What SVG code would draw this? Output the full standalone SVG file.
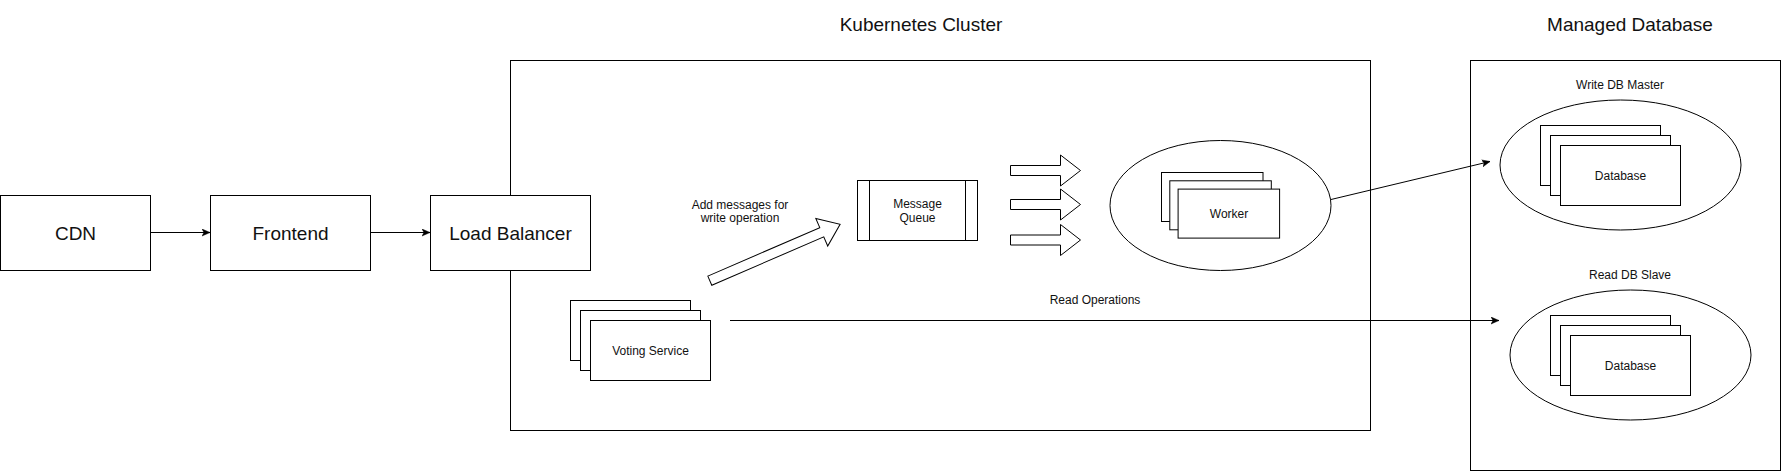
<svg xmlns="http://www.w3.org/2000/svg" width="1781" height="471" viewBox="0 0 1781 471">
<style>
.box{fill:#fff;stroke:#000;stroke-width:1}
.cont{fill:none;stroke:#000;stroke-width:1}
.ell{fill:#fff;stroke:#000;stroke-width:1}
.edge{fill:none;stroke:#000;stroke-width:1}
.blk{fill:#fff;stroke:#000;stroke-width:1;stroke-linejoin:miter}
.big{font-family:"Liberation Sans",Arial,sans-serif;font-size:19px;fill:#111;text-anchor:middle}
.sm{font-family:"Liberation Sans",Arial,sans-serif;font-size:12px;fill:#111;text-anchor:middle}
</style>
<defs>
<marker id="arr" markerUnits="userSpaceOnUse" markerWidth="10" markerHeight="10" viewBox="0 0 10 10" refX="8" refY="4" orient="auto">
<path d="M0,0.5 L8,4 L0,7.5 L2,4 Z" fill="#000" stroke="#000" stroke-width="0.5"/>
</marker>
</defs>
<rect width="1781" height="471" fill="#fff"/>

<g id="kubernetes-cluster">
<rect class="cont" x="510.5" y="60.5" width="860" height="370"/>
<text class="big" x="921" y="31">Kubernetes Cluster</text>
</g>
<g id="managed-database">
<rect class="cont" x="1470.5" y="60.5" width="310" height="410"/>
<text class="big" x="1630" y="31">Managed Database</text>
</g>

<g id="connectors">
<line class="edge" x1="151" y1="232.5" x2="210" y2="232.5" marker-end="url(#arr)"/>
<line class="edge" x1="371" y1="232.5" x2="430" y2="232.5" marker-end="url(#arr)"/>
<line class="edge" x1="1331" y1="199.5" x2="1490" y2="161.5" marker-end="url(#arr)"/>
<line class="edge" x1="730" y1="320.5" x2="1499" y2="320.5" marker-end="url(#arr)"/>
<text class="sm" x="1095" y="304">Read Operations</text>
<polygon class="blk" transform="translate(709.8,280.7) rotate(-23.4)" points="0,-5 122,-5 122,-15 142,0 122,15 122,5 0,5"/>
<text class="sm" x="740" y="209">Add messages for</text>
<text class="sm" x="740" y="222">write operation</text>
<polygon class="blk" points="1010.5,165.5 1060.5,165.5 1060.5,155 1080.5,170.5 1060.5,186 1060.5,175.5 1010.5,175.5"/>
<polygon class="blk" points="1010.5,199.5 1060.5,199.5 1060.5,189 1080.5,204.5 1060.5,220 1060.5,209.5 1010.5,209.5"/>
<polygon class="blk" points="1010.5,235 1060.5,235 1060.5,224.5 1080.5,240 1060.5,255.5 1060.5,245 1010.5,245"/>
</g>

<g id="cdn">
<rect class="box" x="0.5" y="195.5" width="150" height="75"/>
<text class="big" x="75.5" y="239.5">CDN</text>
</g>
<g id="frontend">
<rect class="box" x="210.5" y="195.5" width="160" height="75"/>
<text class="big" x="290.5" y="239.5">Frontend</text>
</g>
<g id="load-balancer">
<rect class="box" x="430.5" y="195.5" width="160" height="75"/>
<text class="big" x="510.5" y="239.5">Load Balancer</text>
</g>

<g id="voting-service">
<rect class="box" x="570.5" y="300.5" width="120" height="60"/>
<rect class="box" x="580.5" y="310.5" width="120" height="60"/>
<rect class="box" x="590.5" y="320.5" width="120" height="60"/>
<text class="sm" x="650.5" y="354.5">Voting Service</text>
</g>

<g id="message-queue">
<rect class="box" x="857.5" y="180.5" width="120" height="60"/>
<line class="edge" x1="869.5" y1="180.5" x2="869.5" y2="240.5"/>
<line class="edge" x1="965.5" y1="180.5" x2="965.5" y2="240.5"/>
<text class="sm" x="917.5" y="207.5">Message</text>
<text class="sm" x="917.5" y="222">Queue</text>
</g>

<g id="worker">
<ellipse class="ell" cx="1220.5" cy="205.5" rx="110.5" ry="65"/>
<rect class="box" x="1161.5" y="172.5" width="101.5" height="49"/>
<rect class="box" x="1169.8" y="180.8" width="101.5" height="49"/>
<rect class="box" x="1178.1" y="189.1" width="101.5" height="49"/>
<text class="sm" x="1229" y="217.8">Worker</text>
</g>

<g id="write-db-master">
<text class="sm" x="1620" y="88.6">Write DB Master</text>
<ellipse class="ell" cx="1620.5" cy="165" rx="120.5" ry="65"/>
<rect class="box" x="1540.5" y="125.5" width="120" height="60"/>
<rect class="box" x="1550.5" y="135.5" width="120" height="60"/>
<rect class="box" x="1560.5" y="145.5" width="120" height="60"/>
<text class="sm" x="1620.5" y="179.7">Database</text>
</g>

<g id="read-db-slave">
<text class="sm" x="1630" y="279">Read DB Slave</text>
<ellipse class="ell" cx="1630.5" cy="355" rx="120.5" ry="65"/>
<rect class="box" x="1550.5" y="315.5" width="120" height="60"/>
<rect class="box" x="1560.5" y="325.5" width="120" height="60"/>
<rect class="box" x="1570.5" y="335.5" width="120" height="60"/>
<text class="sm" x="1630.5" y="369.7">Database</text>
</g>
</svg>
